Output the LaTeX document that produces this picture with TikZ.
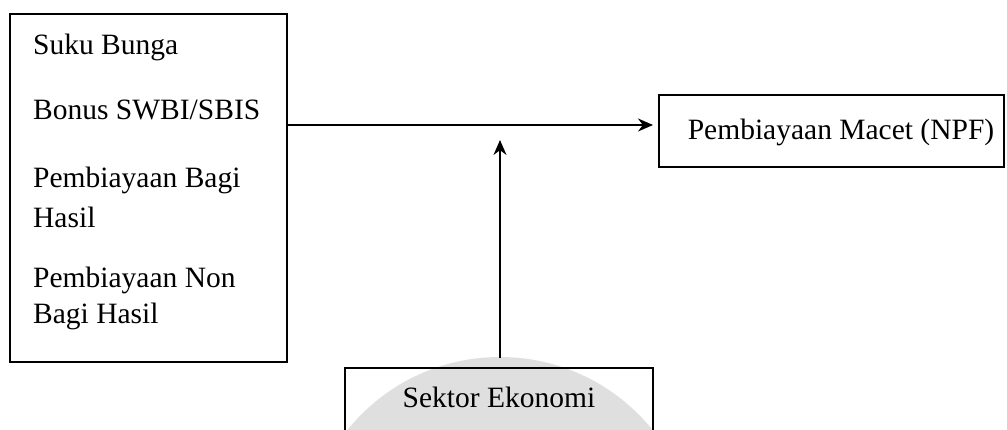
\documentclass[tikz,border=0pt]{standalone}
\usepackage{fontspec}
\setmainfont{Liberation Serif}
\usetikzlibrary{arrows.meta}
\begin{document}
\begin{tikzpicture}[x=1pt,y=1pt,
  boxline/.style={draw=black,line width=1.8pt},
  lbl/.style={inner sep=0pt,font=\fontsize{29.5}{35}\selectfont},
  conn/.style={line width=1.8pt,-{Stealth[length=15pt,width=13pt]}}]
\clip (0,0) rectangle (1007,-430);
\fill[white] (0,0) rectangle (1007,-430);
% watermark
\fill[gray!25] (500,-553) circle (196);
% left box
\draw[boxline] (10,-14) rectangle (287,-362);
\coordinate (lbE) at (287,-125);
\node[lbl,anchor=west] (t1) at (33,-47) {Suku Bunga};
\node[lbl,anchor=west] (t2) at (33,-110) {Bonus SWBI/SBIS};
\node[lbl,anchor=west] (t3) at (33,-180) {Pembiayaan Bagi};
\node[lbl,anchor=west] (t3b) at (33,-217) {Hasil};
\node[lbl,anchor=west] (t4) at (33,-280) {Pembiayaan Non};
\node[lbl,anchor=west] (t4b) at (33,-316) {Bagi Hasil};
% right box
\draw[boxline] (659,-95) rectangle (1004,-167);
\coordinate (rbW) at (653,-125);
\node[lbl] (npf) at (841,-132) {Pembiayaan Macet (NPF)};
% bottom box
\draw[boxline] (345,-440) -- (345,-368) -- (653,-368) -- (653,-440);
\coordinate (sbN) at (500,-358);
\node[lbl] (sek) at (499,-397) {Sektor Ekonomi};
\coordinate (mid) at (500,-140);
% connectors
\draw[conn] (lbE) -- (rbW);
\draw[conn] (sbN) -- (mid);
\end{tikzpicture}
\end{document}
